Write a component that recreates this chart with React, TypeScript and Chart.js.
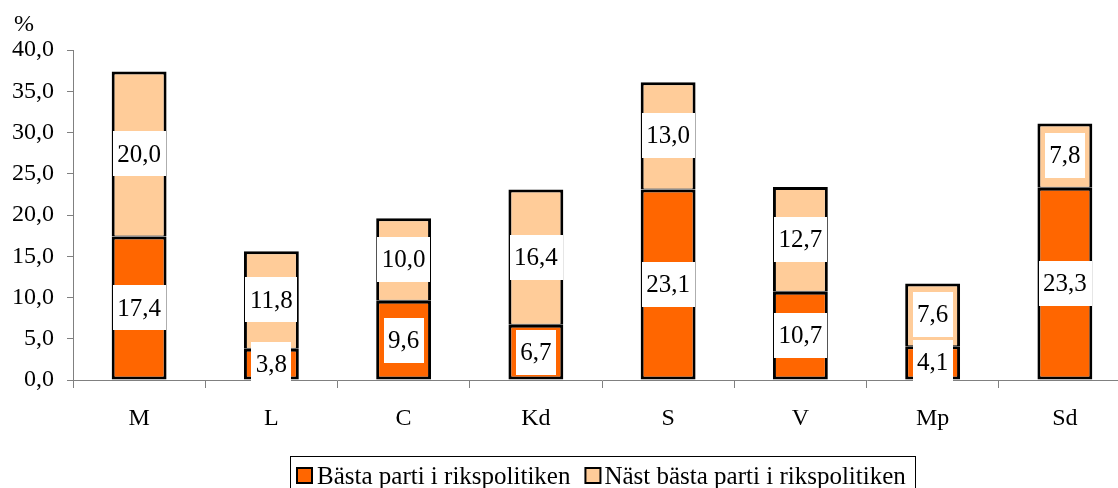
import React, { useEffect, useRef } from 'react';
import { Chart, registerables } from 'chart.js';

Chart.register(...registerables);

const categories = ['M', 'L', 'C', 'Kd', 'S', 'V', 'Mp', 'Sd'];
const bestParty = [17.4, 3.8, 9.6, 6.7, 23.1, 10.7, 4.1, 23.3];
const secondBest = [20.0, 11.8, 10.0, 16.4, 13.0, 12.7, 7.6, 7.8];
const seriesNames = ['Bästa parti i rikspolitiken', 'Näst bästa parti i rikspolitiken'];
const seriesColors = ['#FF6600', '#FFCC99'];
const yMin = 0;
const yMax = 40;
const yStep = 5;
const unitLabel = '%';

const FONT = '"Liberation Serif", "Times New Roman", serif';
const fmt = (v: number) => v.toFixed(1).replace('.', ',');

const labelPlugin = {
  id: 'boxLabels',
  afterDatasetsDraw(chart: any) {
    const ctx = chart.ctx;
    ctx.save();
    ctx.font = `25px ${FONT}`;
    ctx.textAlign = 'center';
    ctx.textBaseline = 'middle';
    chart.data.datasets.forEach((ds: any, di: number) => {
      const meta = chart.getDatasetMeta(di);
      meta.data.forEach((el: any, i: number) => {
        const text = fmt(ds.data[i]);
        const cy = (el.y + el.base) / 2;
        const w = ctx.measureText(text).width + 9;
        const h = 45;
        ctx.fillStyle = '#FFFFFF';
        ctx.fillRect(Math.round(el.x - w / 2), Math.round(cy - h / 2), Math.round(w), h);
        ctx.fillStyle = '#000000';
        ctx.fillText(text, el.x, cy + 1);
      });
    });
    ctx.restore();
  },
  afterDraw(chart: any) {
    const ctx = chart.ctx;
    const area = chart.chartArea;
    ctx.save();
    ctx.font = `24px ${FONT}`;
    ctx.fillStyle = '#000';
    ctx.textAlign = 'left';
    ctx.textBaseline = 'middle';
    ctx.fillText(unitLabel, area.left - 59, area.top - 25);

    // legend
    ctx.font = `25px ${FONT}`;
    ctx.textBaseline = 'alphabetic';
    const boxLeft = 290.5;
    const boxTop = 456.5;
    const sw = 15;
    const swTop = 468;
    const baseline = 484;
    const w1 = ctx.measureText(seriesNames[0]).width;
    const w2 = ctx.measureText(seriesNames[1]).width;
    const sw1x = 297;
    const t1x = sw1x + sw + 5;
    const sw2x = t1x + w1 + 15;
    const t2x = sw2x + sw + 4;
    const boxRight = t2x + w2 + 10;
    ctx.strokeStyle = '#000';
    ctx.lineWidth = 1;
    ctx.strokeRect(boxLeft, boxTop, Math.round(boxRight - boxLeft), 40);
    [sw1x, sw2x].forEach((sx, i) => {
      ctx.fillStyle = seriesColors[i];
      ctx.fillRect(sx, swTop, sw, sw);
      ctx.strokeStyle = '#000';
      ctx.lineWidth = 2;
      ctx.strokeRect(sx, swTop, sw, sw);
    });
    ctx.fillStyle = '#000';
    ctx.fillText(seriesNames[0], t1x, baseline);
    ctx.fillText(seriesNames[1], t2x, baseline);
    ctx.restore();
  },
};

export default function App() {
  const ref = useRef<HTMLCanvasElement>(null);
  useEffect(() => {
    if (!ref.current) return;
    const chart = new Chart(ref.current, {
      type: 'bar',
      data: {
        labels: categories,
        datasets: [
          {
            label: seriesNames[0],
            data: bestParty,
            backgroundColor: seriesColors[0],
            borderColor: '#000',
            borderWidth: 3,
            borderSkipped: false,
          },
          {
            label: seriesNames[1],
            data: secondBest,
            backgroundColor: seriesColors[1],
            borderColor: '#000',
            borderWidth: { top: 3, left: 3, right: 3, bottom: 1 },
            borderSkipped: false,
          },
        ],
      },
      options: {
        responsive: false,
        animation: false,
        devicePixelRatio: 1,
        layout: { padding: { top: 50, left: 0, right: 0, bottom: 0 } },
        datasets: { bar: { categoryPercentage: 0.83, barPercentage: 0.5 } },
        plugins: { legend: { display: false }, tooltip: { enabled: false } },
        scales: {
          x: {
            stacked: true,
            grid: { offset: true, drawOnChartArea: false, tickLength: 8, color: '#808080', lineWidth: 1 },
            border: { color: '#808080', width: 1 },
            ticks: { color: '#000', font: { family: FONT, size: 24 }, padding: 16 },
            afterFit: (s: any) => { s.height = 108; },
          },
          y: {
            stacked: true,
            min: yMin,
            max: yMax,
            grid: { drawOnChartArea: false, tickLength: 6, color: '#808080', lineWidth: 1 },
            border: { color: '#808080', width: 1 },
            ticks: {
              stepSize: yStep,
              color: '#000',
              font: { family: FONT, size: 24 },
              padding: 13,
              callback: (v: any) => fmt(Number(v)),
            },
            afterFit: (s: any) => { s.width = 73; },
          },
        },
      },
      plugins: [labelPlugin],
    } as any);
    return () => chart.destroy();
  }, []);
  return (
    <div style={{ position: 'fixed', left: 0, top: 0, width: 1118, height: 488, overflow: 'hidden', background: '#fff' }}>
      <canvas ref={ref} width={1131} height={488} style={{ width: 1131, height: 488, display: 'block' }} />
    </div>
  );
}
